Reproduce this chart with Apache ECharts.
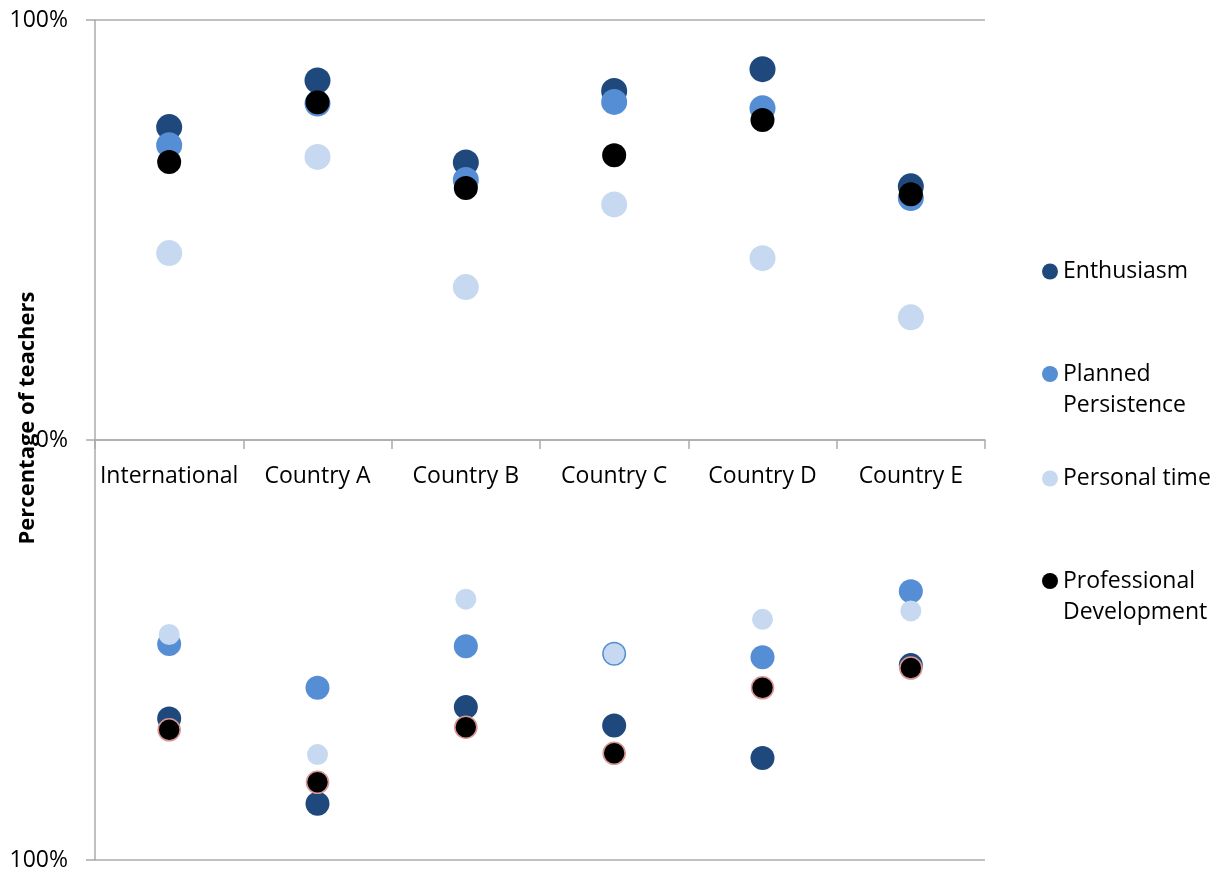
<!DOCTYPE html>
<html>
<head>
<meta charset="utf-8">
<script src="https://cdn.jsdelivr.net/npm/echarts@6/dist/echarts.min.js"></script>
<style>
  html, body { margin: 0; padding: 0; background: #fff; }
  #chart { width: 1220px; height: 870px; }
</style>
</head>
<body>
<div id="chart"></div>
<script>
// Categories
const categories = ['International', 'Country A', 'Country B', 'Country C', 'Country D', 'Country E'];

// Upper half (percentage, plotted upward)
const enthusiasmTop   = [74.5, 85.6, 66.1, 83.1, 88.3, 60.4];
const plannedTop      = [70.2, 80.1, 61.9, 80.5, 79.0, 57.6];
const personalTop     = [44.5, 67.4, 36.4, 56.1, 43.3, 29.2];
const professionalTop = [66.2, 80.4, 60.0, 67.8, 76.2, 58.5];

// Lower half (percentage, plotted downward)
const enthusiasmBottom   = [66.3, 86.6, 63.6, 68.0, 75.7, 53.6];
const plannedBottom      = [48.6, 59.0, 49.1, 50.9, 51.7, 36.0];
const personalBottom     = [46.3, 74.9, 37.9, 50.9, 42.7, 40.7];
const professionalBottom = [69.0, 81.5, 68.4, 74.6, 59.0, 54.3];

// Y tick labels
const yTicks = [-100, 0, 100];

const seriesNames = ['Enthusiasm', 'Planned Persistence', 'Personal time', 'Professional Development'];
const colors = ['#1F497D', '#558ED5', '#C6D9F1', '#000000'];

const FONT = '"Open Sans", "Liberation Sans", sans-serif';
const AXIS_COLOR = '#ABABAB';

const topSets = [enthusiasmTop, plannedTop, personalTop, professionalTop];
const bottomSets = [enthusiasmBottom, plannedBottom, personalBottom, professionalBottom];
const topSizes = [26, 26, 26, 24];
const bottomSizes = [24, 24, 21, 22];

const series = [];
seriesNames.forEach((name, i) => {
  series.push({
    name: name,
    type: 'scatter',
    symbol: 'circle',
    symbolSize: topSizes[i],
    itemStyle: { color: colors[i], opacity: 1 },
    data: topSets[i],
    z: 2 + i,
    emphasis: { disabled: true }
  });
});
seriesNames.forEach((name, i) => {
  const st = { color: colors[i], opacity: 1 };
  if (i === 3) { st.borderColor = '#D99694'; st.borderWidth = 1.6; }
  series.push({
    name: name,
    type: 'scatter',
    symbol: 'circle',
    symbolSize: bottomSizes[i],
    itemStyle: st,
    data: bottomSets[i].map(v => -v),
    z: 2 + i,
    emphasis: { disabled: true }
  });
});

function legendFor(name, top) {
  return {
    show: true,
    orient: 'vertical',
    left: 1042,
    top: top,
    padding: 0,
    itemWidth: 16,
    itemHeight: 16,
    icon: 'circle',
    data: [name],
    formatter: function (n) {
      if (n === 'Planned Persistence') return ' \nPlanned\nPersistence';
      if (n === 'Professional Development') return ' \nProfessional\nDevelopment';
      return n;
    },
    textStyle: { fontFamily: FONT, fontSize: 23, color: '#000', lineHeight: 31 }
  };
}

const option = {
  backgroundColor: '#fff',
  animation: false,
  grid: { left: 95, right: 235, top: 20, bottom: 10, containLabel: false, outerBoundsMode: 'none' },
  legend: [
    legendFor('Enthusiasm', 256),
    legendFor('Planned Persistence', 327.5),
    legendFor('Personal time', 463),
    legendFor('Professional Development', 534.5)
  ],
  xAxis: {
    type: 'category',
    data: categories,
    boundaryGap: true,
    position: 'bottom',
    offset: -420,
    axisLine: { show: true, onZero: false, lineStyle: { color: AXIS_COLOR, width: 1.5 } },
    axisTick: { show: true, interval: 0, length: 9, inside: false, lineStyle: { color: AXIS_COLOR, width: 1.5 } },
    axisLabel: { interval: 0, fontFamily: FONT, fontSize: 23, color: '#000', margin: 25 },
    splitLine: { show: false }
  },
  yAxis: {
    type: 'value',
    min: -100,
    max: 100,
    interval: 100,
    axisLine: { show: true, lineStyle: { color: AXIS_COLOR, width: 1.5 } },
    axisTick: { show: true, length: 9, inside: false, lineStyle: { color: AXIS_COLOR, width: 1.5 } },
    axisLabel: {
      fontFamily: FONT, fontSize: 23, color: '#000', margin: 27,
      formatter: function (v) { return yTicks.indexOf(v) >= 0 ? Math.abs(v) + '%' : ''; }
    },
    splitLine: { show: true, lineStyle: { color: AXIS_COLOR, width: 1.5 } }
  },
  graphic: [{
    type: 'text',
    x: 28,
    y: 418,
    rotation: Math.PI / 2,
    style: {
      text: 'Percentage of teachers',
      fontFamily: FONT,
      fontSize: 22,
      fontWeight: 'bold',
      fill: '#000',
      align: 'center',
      verticalAlign: 'middle'
    },
    z: 100
  }],
  series: series
};

const chart = echarts.init(document.getElementById('chart'), null, { renderer: 'canvas' });
chart.setOption(option);
</script>
</body>
</html>
